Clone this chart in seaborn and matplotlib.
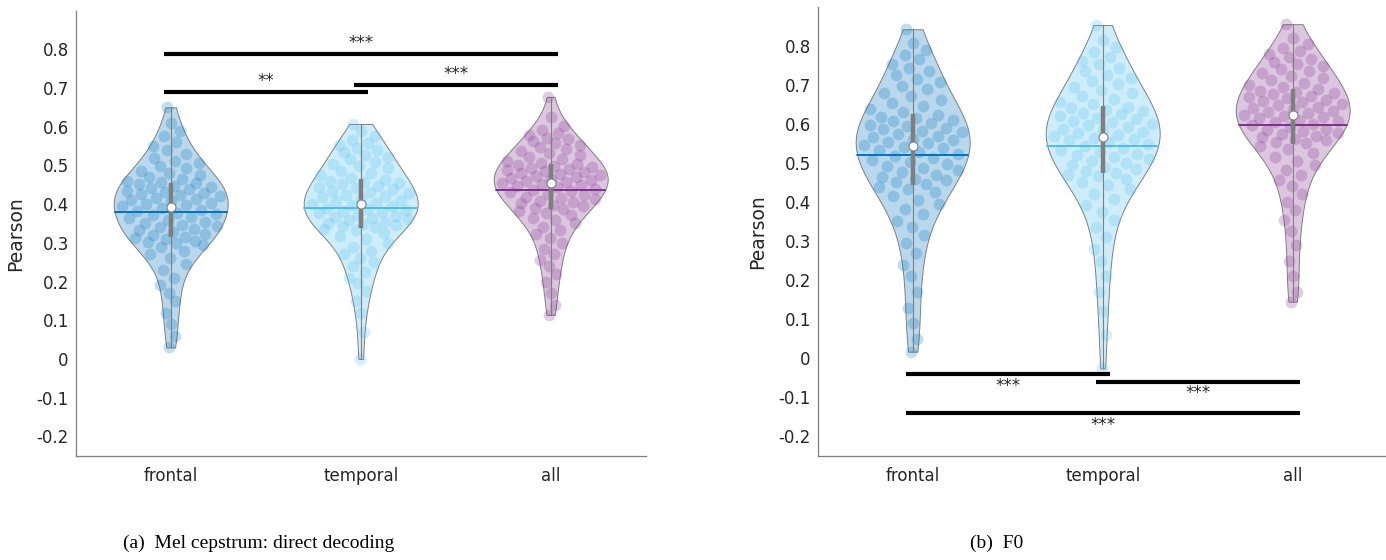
import numpy as np
import pandas as pd
import matplotlib
matplotlib.use("Agg")
import matplotlib.pyplot as plt
import seaborn as sns
from matplotlib.colors import to_rgba

# ---------------- data ----------------
categories = ["frontal", "temporal", "all"]
colors = ["#0072BD", "#4DBEEE", "#7E2F8E"]

mel_frontal = [0.03, 0.06, 0.09, 0.12, 0.15, 0.17, 0.19, 0.21, 0.23, 0.245, 0.26, 0.27, 0.28, 0.288, 0.295, 0.30, 0.303, 0.306, 0.309, 0.312,
               0.316, 0.320, 0.324, 0.328, 0.332, 0.336, 0.340, 0.343, 0.347, 0.351, 0.355, 0.359, 0.363, 0.367, 0.371, 0.374, 0.378, 0.382, 0.386, 0.390,
               0.395, 0.398, 0.401, 0.404, 0.407, 0.410, 0.414, 0.417, 0.420, 0.423, 0.426, 0.429, 0.432, 0.435, 0.439, 0.442, 0.445, 0.448, 0.451, 0.454,
               0.456, 0.46, 0.465, 0.47, 0.475, 0.48, 0.486, 0.492, 0.498, 0.505, 0.512, 0.52, 0.53, 0.54, 0.55, 0.56, 0.575, 0.59, 0.61, 0.65]
mel_temporal = [0.00, 0.07, 0.12, 0.15, 0.175, 0.195, 0.21, 0.225, 0.24, 0.25, 0.26, 0.27, 0.28, 0.29, 0.30, 0.31, 0.318, 0.325, 0.332, 0.337,
                0.340, 0.343, 0.346, 0.349, 0.352, 0.355, 0.358, 0.361, 0.364, 0.367, 0.370, 0.373, 0.376, 0.379, 0.382, 0.385, 0.388, 0.391, 0.394, 0.397,
                0.401, 0.404, 0.408, 0.411, 0.414, 0.418, 0.421, 0.424, 0.428, 0.431, 0.434, 0.438, 0.441, 0.444, 0.448, 0.451, 0.454, 0.457, 0.460, 0.463,
                0.468, 0.474, 0.480, 0.486, 0.492, 0.498, 0.504, 0.510, 0.516, 0.522, 0.528, 0.534, 0.540, 0.546, 0.552, 0.559, 0.566, 0.575, 0.588, 0.607]
mel_all = [0.114, 0.14, 0.17, 0.20, 0.22, 0.24, 0.255, 0.27, 0.285, 0.30, 0.312, 0.323, 0.333, 0.342, 0.35, 0.358, 0.365, 0.372, 0.378, 0.383,
           0.388, 0.391, 0.395, 0.398, 0.402, 0.405, 0.409, 0.412, 0.416, 0.419, 0.423, 0.426, 0.430, 0.433, 0.437, 0.440, 0.444, 0.447, 0.450, 0.453,
           0.455, 0.458, 0.460, 0.463, 0.465, 0.468, 0.470, 0.473, 0.475, 0.478, 0.480, 0.483, 0.485, 0.488, 0.490, 0.493, 0.495, 0.498, 0.500, 0.503,
           0.507, 0.512, 0.517, 0.522, 0.527, 0.532, 0.537, 0.542, 0.547, 0.552, 0.557, 0.562, 0.567, 0.572, 0.578, 0.584, 0.592, 0.603, 0.625, 0.677]

f0_frontal = [0.017, 0.05, 0.09, 0.13, 0.17, 0.21, 0.24, 0.27, 0.295, 0.315, 0.335, 0.352, 0.368, 0.382, 0.395, 0.406, 0.416, 0.425, 0.432, 0.438,
              0.445, 0.450, 0.455, 0.460, 0.465, 0.470, 0.476, 0.481, 0.486, 0.491, 0.497, 0.502, 0.507, 0.512, 0.518, 0.523, 0.528, 0.533, 0.538, 0.542,
              0.546, 0.550, 0.554, 0.558, 0.562, 0.566, 0.570, 0.574, 0.578, 0.582, 0.586, 0.590, 0.594, 0.598, 0.602, 0.606, 0.610, 0.614, 0.618, 0.622,
              0.630, 0.638, 0.646, 0.654, 0.662, 0.670, 0.679, 0.688, 0.697, 0.706, 0.715, 0.724, 0.734, 0.744, 0.754, 0.765, 0.777, 0.790, 0.808, 0.842]
f0_temporal = [-0.026, 0.06, 0.12, 0.17, 0.21, 0.25, 0.28, 0.31, 0.335, 0.355, 0.375, 0.392, 0.407, 0.42, 0.432, 0.443, 0.452, 0.46, 0.466, 0.47,
               0.474, 0.479, 0.484, 0.489, 0.494, 0.499, 0.504, 0.509, 0.514, 0.519, 0.524, 0.529, 0.534, 0.539, 0.544, 0.549, 0.554, 0.558, 0.562, 0.565,
               0.568, 0.572, 0.576, 0.580, 0.584, 0.588, 0.592, 0.596, 0.600, 0.604, 0.608, 0.612, 0.616, 0.620, 0.624, 0.628, 0.632, 0.636, 0.640, 0.644,
               0.650, 0.657, 0.664, 0.671, 0.678, 0.686, 0.694, 0.702, 0.710, 0.718, 0.726, 0.735, 0.744, 0.753, 0.762, 0.772, 0.783, 0.796, 0.815, 0.853]
f0_all = [0.145, 0.17, 0.21, 0.25, 0.29, 0.325, 0.355, 0.38, 0.40, 0.42, 0.44, 0.455, 0.47, 0.483, 0.495, 0.506, 0.516, 0.526, 0.535, 0.543,
          0.550, 0.554, 0.558, 0.562, 0.566, 0.569, 0.573, 0.577, 0.581, 0.585, 0.588, 0.592, 0.596, 0.600, 0.604, 0.607, 0.611, 0.614, 0.617, 0.620,
          0.623, 0.627, 0.630, 0.634, 0.637, 0.641, 0.644, 0.648, 0.651, 0.655, 0.658, 0.662, 0.665, 0.669, 0.672, 0.676, 0.679, 0.682, 0.685, 0.688,
          0.693, 0.699, 0.705, 0.711, 0.717, 0.723, 0.729, 0.735, 0.741, 0.747, 0.753, 0.759, 0.765, 0.772, 0.779, 0.786, 0.794, 0.804, 0.820, 0.855]

ytick_values = [-0.2, -0.1, 0, 0.1, 0.2, 0.3, 0.4, 0.5, 0.6, 0.7, 0.8]
ytick_labels = ["-0.2", "-0.1", "0", "0.1", "0.2", "0.3", "0.4", "0.5", "0.6", "0.7", "0.8"]

# significance brackets: (from index, to index, bar level, label, side of label)
mel_sig = [(0, 2, 0.788, "***", "above"), (0, 1, 0.690, "**", "above"), (1, 2, 0.708, "***", "above")]
f0_sig = [(0, 1, -0.041, "***", "below"), (1, 2, -0.060, "***", "below"), (0, 2, -0.141, "***", "below")]

captions = ["(a)  Mel cepstrum: direct decoding", "(b)  F0"]
ylabel = "Pearson"

# ---------------- style ----------------
sns.set_style("white")
plt.rcParams["font.family"] = ["DejaVu Sans"]
TEXT = "#262626"
GRAY = "#7f7f7f"
BW_ADJ = 1.0
VWIDTH = 0.6


def half_width(vals, ys):
    v = np.asarray(vals, float)
    n = len(v)
    h = v.std(ddof=1) * n ** (-0.2) * BW_ADJ

    def dens(y):
        y = np.atleast_1d(np.asarray(y, float))
        return np.exp(-0.5 * ((y[:, None] - v[None, :]) / h) ** 2).sum(1)

    grid = np.linspace(v.min(), v.max(), 100)
    return dens(ys) / dens(grid).max() * VWIDTH / 2


def panel(ax, groups, sig):
    df = pd.DataFrame({
        "region": np.concatenate([[c] * len(g) for c, g in zip(categories, groups)]),
        "value": np.concatenate([np.asarray(g, float) for g in groups]),
    })
    sns.violinplot(data=df, x="region", y="value", hue="region", order=categories,
                   hue_order=categories, palette=colors, legend=False, inner=None,
                   cut=0, density_norm="width", width=VWIDTH, bw_adjust=BW_ADJ,
                   saturation=1, linewidth=0.7, linecolor=GRAY, ax=ax)
    for coll, c in zip(ax.collections, colors):
        coll.set_facecolor(to_rgba(c, 0.27))
        coll.set_edgecolor(GRAY)
        coll.set_linewidth(0.7)

    for i, (g, c) in enumerate(zip(groups, colors)):
        v = np.asarray(g, float)
        n = len(v)
        u = ((np.arange(n) * 0.6180339887 + 0.31) % 1.0) * 2 - 1
        hw = half_width(v, v)
        ax.scatter(i + u * hw * 0.92, v, s=72, color=c, alpha=0.24, linewidths=0, zorder=2)
        q1, med, q3 = np.percentile(v, [25, 50, 75])
        mean = v.mean()
        mw = half_width(v, [mean])[0]
        ax.plot([i, i], [v.min(), v.max()], color=GRAY, lw=0.8, zorder=3)
        ax.plot([i - mw, i + mw], [mean, mean], color=c, lw=1.4, zorder=3)
        ax.plot([i, i], [q1, q3], color=GRAY, lw=3.2, solid_capstyle="butt", zorder=4)
        ax.plot([i], [med], marker="o", ms=6.5, mfc="white", mec=GRAY, mew=0.8, zorder=5)

    for a, b, y, lab, side in sig:
        ax.plot([a - 0.037, b + 0.037], [y, y], color="black", lw=3, solid_capstyle="butt", zorder=6)
        ty = y + 0.016 if side == "above" else y - 0.042
        ax.text((a + b) / 2, ty, lab, ha="center", va="baseline", fontsize=12, color=TEXT, zorder=6)

    ax.set_xlim(-0.5, 2.5)
    ax.set_ylim(-0.25, 0.9)
    ax.set_yticks(ytick_values)
    ax.set_yticklabels(ytick_labels)
    ax.set_xlabel("")
    ax.set_ylabel(ylabel, fontsize=13.5, color=TEXT)
    ax.yaxis.set_label_coords(-0.089, 0.5)
    sns.despine(ax=ax)
    for s in ("left", "bottom"):
        ax.spines[s].set_color(GRAY)
        ax.spines[s].set_linewidth(0.9)
    ax.tick_params(axis="both", direction="in", length=4, width=0.8, color=GRAY,
                   labelcolor=TEXT, labelsize=12)
    ax.tick_params(axis="x", pad=8)
    ax.tick_params(axis="y", pad=5)


fig = plt.figure(figsize=(13.86, 5.6), dpi=100)
W, H = 1386.0, 560.0
ax1 = fig.add_axes([75.7 / W, 1 - 455.8 / H, 570 / W, 445.3 / H])
ax2 = fig.add_axes([817.7 / W, 1 - 456.0 / H, 570 / W, 449.4 / H])

panel(ax1, [mel_frontal, mel_temporal, mel_all], mel_sig)
panel(ax2, [f0_frontal, f0_temporal, f0_all], f0_sig)

fig.text(259 / W, 1 - 543 / H, captions[0], ha="center", va="center",
         fontsize=14, family="Liberation Serif", color="black")
fig.text(997 / W, 1 - 543 / H, captions[1], ha="center", va="center",
         fontsize=14, family="Liberation Serif", color="black")

fig.savefig("out.png", dpi=100)
